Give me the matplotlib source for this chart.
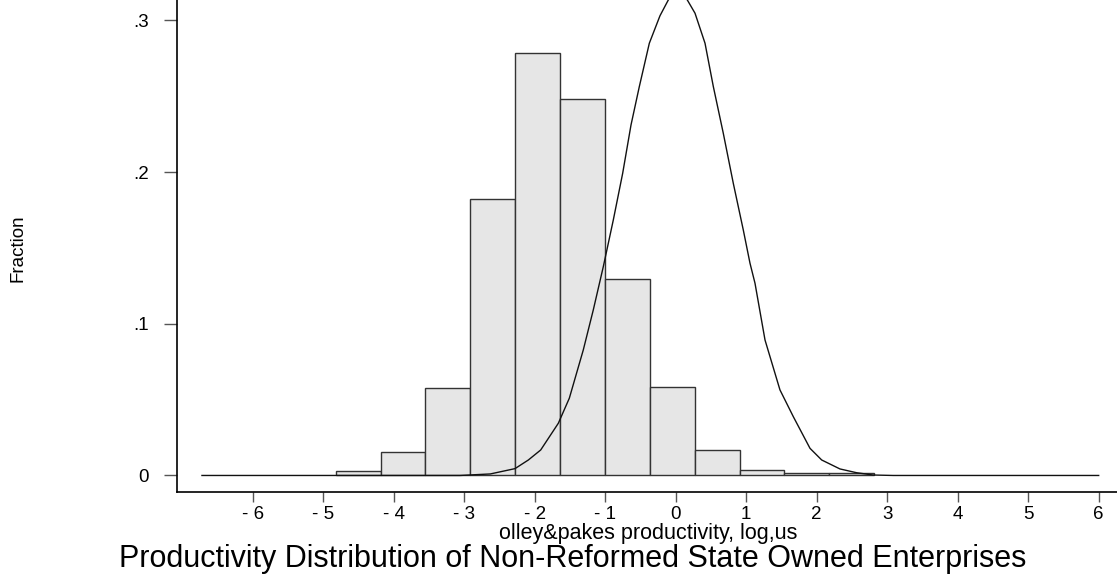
import matplotlib
matplotlib.use('Agg')
import matplotlib.pyplot as plt
import numpy as np

plt.rcParams['font.family'] = ['Liberation Sans', 'DejaVu Sans']

# Histogram: fraction of firms per bin (12 equal bins)
bin_start = -4.823
bin_width = 0.6366
fractions = [0.0030, 0.0157, 0.0575, 0.1825, 0.2787, 0.2482,
             0.1293, 0.0585, 0.0170, 0.0033, 0.0018, 0.0019]

# Overlaid density curve
curve_x = [-6.72, -3.06, -2.63, -2.28, -2.09, -1.915, -1.665, -1.509, -1.311,
           -1.169, -1.027, -0.885, -0.752, -0.634, -0.516, -0.374, -0.223,
           -0.105, 0.03, 0.165, 0.274, 0.416, 0.534, 0.675, 0.817, 0.959,
           1.054, 1.125, 1.267, 1.479, 1.668, 1.905, 2.071, 2.33, 2.567,
           2.80, 3.087, 6.0]
curve_y = [0, 0, 0.001, 0.0045, 0.0102, 0.0168, 0.0344, 0.0509, 0.0827,
           0.1091, 0.1376, 0.1684, 0.1992, 0.2310, 0.2563, 0.2849, 0.3030,
           0.3134, 0.321, 0.3134, 0.3047, 0.2849, 0.2563, 0.2256, 0.1926,
           0.1618, 0.1399, 0.1267, 0.0893, 0.0564, 0.0388, 0.0179, 0.0102,
           0.0043, 0.0018, 0.0003, 0, 0]

x_ticks = [-6, -5, -4, -3, -2, -1, 0, 1, 2, 3, 4, 5, 6]
x_ticklabels = ['- 6', '- 5', '- 4', '- 3', '- 2', '- 1', '0', '1', '2', '3', '4', '5', '6']
y_ticks = [0, 0.1, 0.2, 0.3]
y_ticklabels = ['0', '.1', '.2', '.3']

fig = plt.figure(figsize=(11.17, 5.81), dpi=100)
ax = fig.add_axes([177 / 1117, 1 - 491.7 / 581, 940 / 1117, 491.7 / 581])

edges = bin_start + bin_width * np.arange(len(fractions))
ax.bar(edges, fractions, width=bin_width, align='edge',
       facecolor='#e6e6e6', edgecolor='#333333', linewidth=1.0, zorder=2)

ax.plot(curve_x, curve_y, color='#111111', linewidth=1.0, zorder=3)

ax.set_xlim(-7.074, 6.26)
ax.set_ylim(-0.0107, 0.3134)

for s in ['top', 'right']:
    ax.spines[s].set_visible(False)
for s in ['left', 'bottom']:
    ax.spines[s].set_linewidth(1.2)
    ax.spines[s].set_color('black')

ax.set_xticks(x_ticks)
ax.set_xticklabels(x_ticklabels)
ax.set_yticks(y_ticks)
ax.set_yticklabels(y_ticklabels)
ax.tick_params(axis='x', direction='out', length=7.2, width=1.0, color='#555555',
               labelsize=13.5, pad=3)
ax.tick_params(axis='y', direction='out', length=9.4, width=1.0, color='#555555',
               labelsize=13.5, pad=11)

fig.text(648 / 1117, 1 - 539.3 / 581, 'olley&pakes productivity, log,us',
         ha='center', va='baseline', fontsize=15.5)
fig.text(573 / 1117, 1 - 566.7 / 581,
         'Productivity Distribution of Non-Reformed State Owned Enterprises',
         ha='center', va='baseline', fontsize=22)
fig.text(18.5 / 1117, 1 - 248 / 581, 'Fraction', rotation=90,
         ha='center', va='center', fontsize=13.5)

fig.savefig('out.png', dpi=100)
